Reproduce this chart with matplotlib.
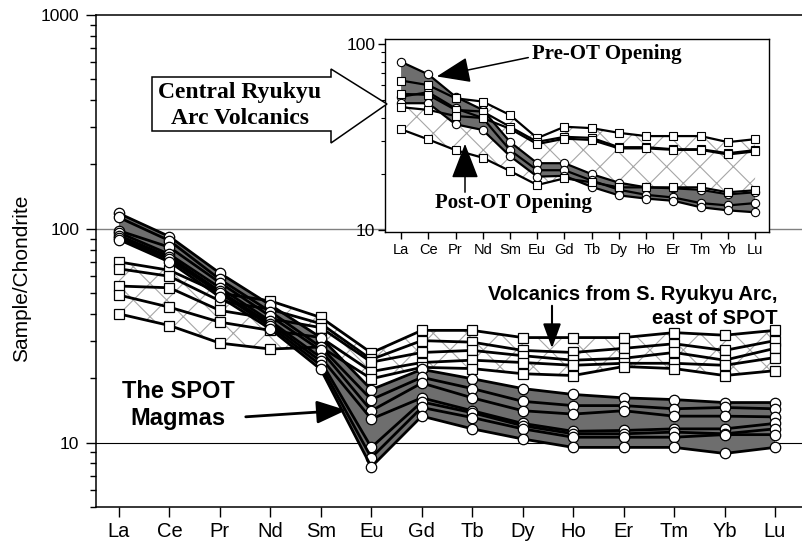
import matplotlib
matplotlib.use('Agg')
import matplotlib.pyplot as plt
import numpy as np
from matplotlib.ticker import FixedLocator, LogLocator, NullFormatter, FixedFormatter
from matplotlib.patches import Polygon, FancyArrowPatch

plt.rcParams['font.family'] = ['Liberation Sans', 'DejaVu Sans']
plt.rcParams['hatch.linewidth'] = 0.8

# ---------------- data ----------------
elements = ['La', 'Ce', 'Pr', 'Nd', 'Sm', 'Eu', 'Gd', 'Tb', 'Dy', 'Ho', 'Er', 'Tm', 'Yb', 'Lu']

# SPOT magmas (circles)
spot_1 = [118, 92, 62, 44, 31, 17.7, 22.0, 19.9, 17.9, 16.8, 16.2, 15.9, 15.4, 15.4]
spot_2 = [113, 88, 58, 41, 28, 15.9, 20.2, 17.9, 15.6, 14.9, 14.9, 14.4, 14.6, 14.4]
spot_3 = [98, 82, 56, 39, 27, 14.1, 19.0, 16.2, 14.1, 13.6, 14.1, 13.3, 13.3, 13.2]
spot_4 = [96, 76, 53, 37, 25, 12.9, 16.2, 14.1, 12.3, 11.3, 11.4, 11.6, 11.6, 12.3]
spot_5 = [93, 74, 51, 36, 24, 9.5, 15.5, 13.8, 12.0, 11.0, 11.0, 11.2, 11.0, 11.6]
spot_6 = [91, 72, 50, 35, 23, 8.5, 14.6, 13.1, 11.6, 10.6, 10.6, 10.6, 10.9, 10.9]
spot_7 = [89, 70, 48, 34, 22, 7.7, 13.3, 11.6, 10.4, 9.5, 9.5, 9.5, 8.9, 9.5]

# Volcanics from S. Ryukyu Arc (squares)
arc_1 = [70, 64, 50, 46, 38.5, 26.3, 33.5, 33.5, 31.0, 31.0, 31.0, 32.7, 31.8, 33.5]
arc_2 = [65, 60, 46, 42, 36.0, 24.5, 30.0, 29.5, 27.0, 26.4, 27.6, 29.0, 27.0, 30.0]
arc_3 = [54, 53, 41.5, 38, 34.5, 23.8, 26.4, 27.0, 25.5, 24.3, 24.8, 26.4, 24.3, 27.6]
arc_4 = [49, 43, 36.6, 33.5, 31.0, 21.5, 23.7, 24.3, 23.7, 23.0, 23.5, 23.5, 23.0, 25.0]
arc_5 = [40, 35.3, 29.2, 27.4, 28.0, 19.9, 22.5, 22.2, 21.0, 20.6, 22.7, 22.2, 20.6, 21.7]

# Inset: Central Ryukyu Arc volcanics
pre_1 = [80, 68.5, 52, 44.2, 29.8, 22.9, 22.9, 20.0, 18.0, 17.0, 16.8, 16.5, 15.6, 16.0]
pre_2 = [52, 55, 45, 40, 26.9, 21.0, 21.0, 18.5, 16.5, 15.5, 15.0, 14.0, 13.6, 14.0]
pre_3 = [48, 48, 37, 34.5, 25.0, 19.4, 19.6, 17.1, 15.4, 14.8, 14.4, 13.3, 12.8, 12.5]

post_1 = [63.5, 60, 51, 49, 41.5, 31.2, 35.9, 35.3, 33.3, 32.0, 32.0, 32.0, 29.7, 30.8]
post_2 = [53.9, 53.2, 44.2, 43.3, 35.9, 29.8, 31.7, 31.3, 27.9, 27.9, 27.2, 27.2, 25.9, 26.9]
post_3 = [45.7, 44.2, 41.0, 40.0, 35.0, 29.0, 31.0, 30.5, 27.5, 27.5, 27.0, 27.0, 25.5, 26.5]
post_4 = [34.8, 30.7, 26.9, 24.5, 20.8, 17.5, 19.0, 18.1, 17.0, 17.0, 17.0, 17.0, 16.0, 16.4]

spot_series = [spot_1, spot_2, spot_3, spot_4, spot_5, spot_6, spot_7]
arc_series = [arc_1, arc_2, arc_3, arc_4, arc_5]
pre_series = [pre_1, pre_2, pre_3]
post_series = [post_1, post_2, post_3, post_4]

# ---------------- figure ----------------
W, H = 803, 544
fig = plt.figure(figsize=(W / 100, H / 100), dpi=100)


def fx(px):
    return px / W


def fy(py):
    return 1 - py / H


def fp(px, py):
    return (fx(px), fy(py))


GREY = '#6e6e6e'
HATCH = '#a6a6a6'
x = np.arange(len(elements))

# main axes
ax = fig.add_axes([fx(96), fy(507), fx(803) - fx(96), fy(15) - fy(507)])
ax.set_yscale('log')
ax.set_ylim(5, 1000)
ax.set_xlim(-0.456, 13.555)

ax.axhline(100, color='#808080', lw=1.0, zorder=0.5)
ax.axhline(10, color='black', lw=0.8, zorder=0.5)

arc_arr = np.array(arc_series)
spot_arr = np.array(spot_series)
ax.fill_between(x, arc_arr.min(0), arc_arr.max(0), facecolor='white',
                edgecolor=HATCH, hatch='x', lw=0, zorder=1)
ax.fill_between(x, spot_arr.min(0), spot_arr.max(0), facecolor=GREY,
                lw=0, zorder=2)
for s in arc_series:
    ax.plot(x, s, '-', color='black', lw=2.0, marker='s', ms=7.5,
            mfc='white', mec='black', mew=0.9, zorder=3)
for s in spot_series:
    ax.plot(x, s, '-', color='black', lw=2.0, marker='o', ms=7.5,
            mfc='white', mec='black', mew=0.9, zorder=4)

ax.spines['right'].set_visible(False)
for sp in ['left', 'bottom', 'top']:
    ax.spines[sp].set_linewidth(1.1)
ax.yaxis.set_major_locator(FixedLocator([10, 100, 1000]))
ax.yaxis.set_major_formatter(FixedFormatter(['10', '100', '1000']))
ax.yaxis.set_minor_locator(LogLocator(base=10, subs=np.arange(2, 10)))
ax.yaxis.set_minor_formatter(NullFormatter())
ax.set_xticks(x)
ax.set_xticklabels(elements)
ax.tick_params(axis='y', which='major', direction='out', length=7, width=1,
               labelsize=12.5, pad=5)
ax.tick_params(axis='y', which='minor', direction='out', length=4, width=1)
ax.tick_params(axis='x', which='major', direction='out', length=7, width=1,
               labelsize=14.5, pad=4)
ax.tick_params(axis='x', which='minor', bottom=False)
fig.text(fx(22), fy(278), 'Sample/Chondrite', rotation=90, ha='center',
         va='center', fontsize=15)

# inset axes
axin = fig.add_axes([fx(385), fy(232), fx(769) - fx(385), fy(39) - fy(232)])
axin.set_yscale('log')
axin.set_ylim(9.8, 106)
axin.set_xlim(-0.59, 13.51)
post_arr = np.array(post_series)
pre_arr = np.array(pre_series)
axin.fill_between(x, post_arr.min(0), post_arr.max(0), facecolor='white',
                  edgecolor=HATCH, hatch='x', lw=0, zorder=1)
axin.fill_between(x, pre_arr.min(0), pre_arr.max(0), facecolor=GREY,
                  lw=0, zorder=2)
for s in post_series:
    axin.plot(x, s, '-', color='black', lw=1.6, marker='s', ms=6,
              mfc='white', mec='black', mew=0.8, zorder=4)
for s in pre_series:
    axin.plot(x, s, '-', color='black', lw=1.6, marker='o', ms=6,
              mfc='white', mec='black', mew=0.8, zorder=3)
for sp in axin.spines.values():
    sp.set_linewidth(1.0)
axin.yaxis.set_major_locator(FixedLocator([10, 100]))
axin.yaxis.set_major_formatter(FixedFormatter(['10', '100']))
axin.yaxis.set_minor_locator(LogLocator(base=10, subs=np.arange(2, 10)))
axin.yaxis.set_minor_formatter(NullFormatter())
axin.set_xticks(x)
axin.set_xticklabels(elements)
axin.tick_params(axis='y', which='major', direction='out', length=5, width=1,
                 labelsize=12.5, pad=2)
axin.tick_params(axis='y', which='minor', direction='out', length=3, width=0.8)
axin.tick_params(axis='x', which='major', direction='out', length=5, width=1,
                 labelsize=10.5, pad=3)
axin.tick_params(axis='x', which='minor', bottom=False)

# ---------------- annotations ----------------
bold_sans = dict(fontweight='bold', color='black')
serif_bold = dict(family=['Liberation Serif', 'DejaVu Serif'], fontweight='bold', color='black')

fig.text(fx(178), fy(391), 'The SPOT', ha='center', va='center', fontsize=17, **bold_sans)
fig.text(fx(178), fy(418), 'Magmas', ha='center', va='center', fontsize=17, **bold_sans)
fig.add_artist(FancyArrowPatch(fp(243, 417), fp(349, 410), transform=fig.transFigure,
                               arrowstyle='-|>,head_length=18,head_width=7',
                               mutation_scale=1, lw=2, color='black', zorder=6))

fig.text(fx(778), fy(294), 'Volcanics from S. Ryukyu Arc,', ha='right', va='center',
         fontsize=14.5, **bold_sans)
fig.text(fx(778), fy(318), 'east of SPOT', ha='right', va='center',
         fontsize=14.5, **bold_sans)
fig.add_artist(FancyArrowPatch(fp(552, 303), fp(552, 351), transform=fig.transFigure,
                               arrowstyle='-|>,head_length=15,head_width=5.5',
                               mutation_scale=1, lw=1.5, color='black', zorder=6))

fig.text(fx(532), fy(54), 'Pre-OT Opening', ha='left', va='center', fontsize=15,
         zorder=7, **serif_bold)
fig.add_artist(FancyArrowPatch(fp(531, 57), fp(434, 77), transform=fig.transFigure,
                               arrowstyle='-|>,head_length=21,head_width=8',
                               mutation_scale=1, lw=1.1, color='black', zorder=6))

fig.text(fx(514), fy(203), 'Post-OT Opening', ha='center', va='center', fontsize=15,
         zorder=7, **serif_bold)
fig.add_artist(FancyArrowPatch(fp(465, 195), fp(465, 141), transform=fig.transFigure,
                               arrowstyle='-|>,head_length=22,head_width=8.5',
                               mutation_scale=1, lw=1.1, color='black', zorder=6))

block = [fp(152, 77), fp(331, 77), fp(331, 69), fp(387, 104), fp(331, 143),
         fp(331, 131), fp(152, 131)]
fig.add_artist(Polygon(block, closed=True, facecolor='white', edgecolor='black',
                       lw=1.1, transform=fig.transFigure, zorder=6))
fig.text(fx(240), fy(92), 'Central Ryukyu', ha='center', va='center', fontsize=17,
         zorder=7, **serif_bold)
fig.text(fx(240), fy(119), 'Arc Volcanics', ha='center', va='center', fontsize=17,
         zorder=7, **serif_bold)

fig.savefig('out.png', dpi=100)
